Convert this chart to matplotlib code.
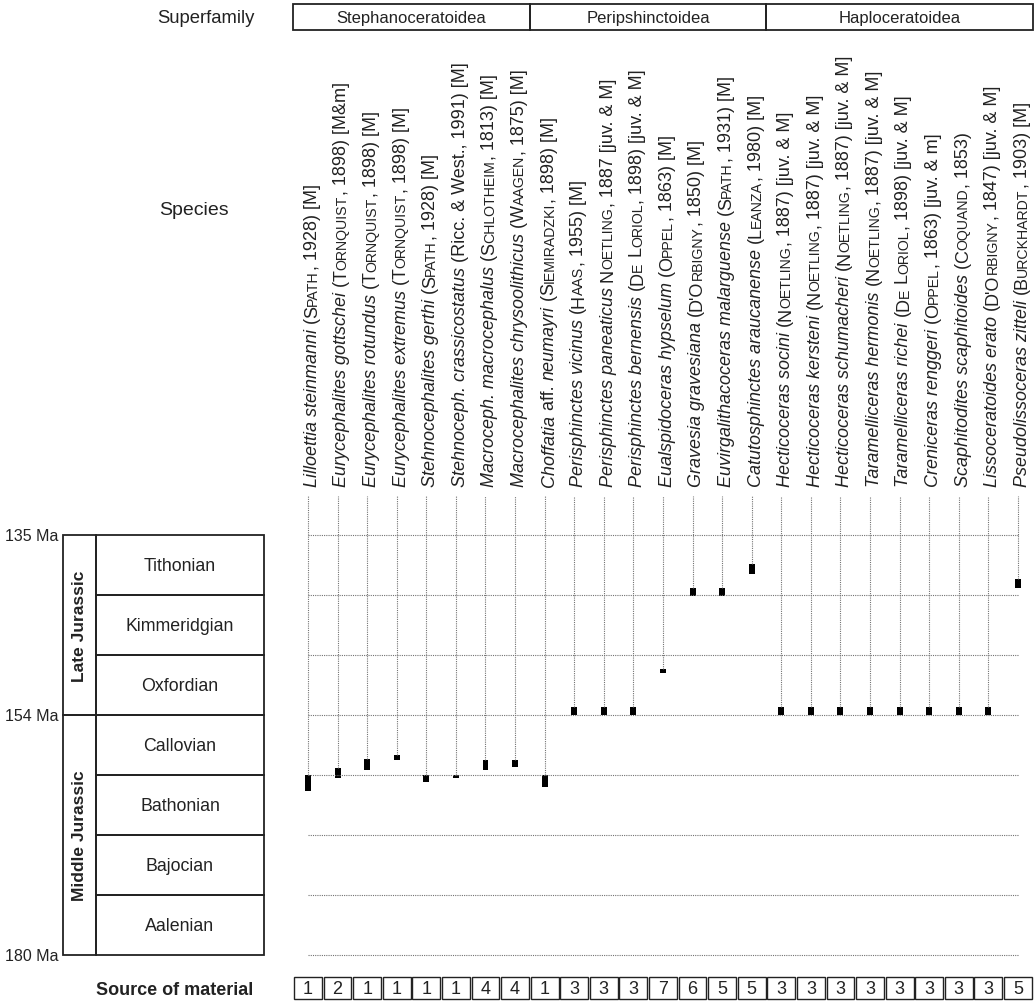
import matplotlib
matplotlib.use('Agg')
import matplotlib.pyplot as plt
from matplotlib.patches import Rectangle
from matplotlib.transforms import offset_copy
from matplotlib.font_manager import FontProperties

# stratigraphy (equal height per stage, bottom = 0)
stages = ['Aalenian', 'Bajocian', 'Bathonian', 'Callovian', 'Oxfordian', 'Kimmeridgian', 'Tithonian']
eras = ['Middle Jurassic', 'Late Jurassic']
era_spans = [(0, 4), (4, 7)]
age_labels = ['180 Ma', '154 Ma', '135 Ma']
age_levels = [0, 4, 7]

superfamilies = ['Stephanoceratoidea', 'Peripshinctoidea', 'Haploceratoidea']
superfamily_counts = [8, 8, 9]

# *...* = italic, ^...^ = small caps
species = [
    "*Lilloettia steinmanni* (^Spath^, 1928) [M]",
    "*Eurycephalites gottschei* (^Tornquist^, 1898) [M&m]",
    "*Eurycephalites rotundus* (^Tornquist^, 1898) [M]",
    "*Eurycephalites extremus* (^Tornquist^, 1898) [M]",
    "*Stehnocephalites gerthi* (^Spath^, 1928) [M]",
    "*Stehnoceph. crassicostatus* (Ricc. & West., 1991) [M]",
    "*Macroceph. macrocephalus* (^Schlotheim^, 1813) [M]",
    "*Macrocephalites chrysoolithicus* (^Waagen^, 1875) [M]",
    "*Choffatia* aff. *neumayri* (^Siemiradzki^, 1898) [M]",
    "*Perisphinctes vicinus* (^Haas^, 1955) [M]",
    "*Perisphinctes paneaticus* ^Noetling^, 1887 [juv. & M]",
    "*Perisphinctes bernensis* (^De Loriol^, 1898) [juv. & M]",
    "*Eualspidoceras hypselum* (^Oppel^, 1863) [M]",
    "*Gravesia gravesiana* (^D'Orbigny^, 1850) [M]",
    "*Euvirgalithacoceras malarguense* (^Spath^, 1931) [M]",
    "*Catutosphinctes araucanense* (^Leanza^, 1980) [M]",
    "*Hecticoceras socini* (^Noetling^, 1887) [juv. & M]",
    "*Hecticoceras kersteni* (^Noetling^, 1887) [juv. & M]",
    "*Hecticoceras schumacheri* (^Noetling^, 1887) [juv. & M]",
    "*Taramelliceras hermonis* (^Noetling^, 1887) [juv. & M]",
    "*Taramelliceras richei* (^De Loriol^, 1898) [juv. & M]",
    "*Creniceras renggeri* (^Oppel^, 1863) [juv. & m]",
    "*Scaphitodites scaphitoides* (^Coquand^, 1853)",
    "*Lissoceratoides erato* (^D'Orbigny^, 1847) [juv. & M]",
    "*Pseudolissoceras zitteli* (^Burckhardt^, 1903) [M]",
]

# stratigraphic range of each species, in stage units
range_bottom = [2.73, 2.95, 3.09, 3.245, 2.88, 2.945, 3.08, 3.14, 2.80,
                4.0, 4.0, 4.0, 4.705, 5.99, 5.99, 6.35,
                4.0, 4.0, 4.0, 4.0, 4.0, 4.0, 4.0, 4.0, 6.12]
range_top = [3.0, 3.12, 3.27, 3.33, 3.0, 3.0, 3.25, 3.25, 3.0,
             4.13, 4.13, 4.13, 4.76, 6.12, 6.12, 6.52,
             4.13, 4.13, 4.13, 4.13, 4.13, 4.13, 4.13, 4.13, 6.27]

source = [1, 2, 1, 1, 1, 1, 4, 4, 1, 3, 3, 3, 7, 6, 5, 5, 3, 3, 3, 3, 3, 3, 3, 3, 5]

regular = ['Liberation Sans', 'DejaVu Sans']
ink = '#222222'

fig = plt.figure(figsize=(10.35, 10.03), dpi=100)
ax = fig.add_axes([0, 0, 1, 1])
ax.set_xlim(-10.412, 24.577)
ax.set_ylim(-0.783, 15.933)
ax.axis('off')

n = len(species)
xs = list(range(n))

# grid
ax.hlines(range(len(stages) + 1), 0, n - 1, colors='0.45', linestyles=(0, (1, 1)), lw=0.8)
ax.vlines(xs, range_top, 7.65, colors='0.45', linestyles=(0, (1, 1)), lw=0.8)

# ranges
heights = [t - b for t, b in zip(range_top, range_bottom)]
ax.bar(xs, heights, bottom=range_bottom, width=0.2, color='black')

# stage / era columns
era_x0, stage_x0, stage_x1 = -8.283, -7.167, -1.487
for i, name in enumerate(stages):
    ax.add_patch(Rectangle((stage_x0, i), stage_x1 - stage_x0, 1, fill=False, lw=1.3, ec=ink))
    ax.text((stage_x0 + stage_x1) / 2, i + 0.5, name, ha='center', va='center',
            fontsize=12.8, family=regular, color=ink)
for name, (a, b) in zip(eras, era_spans):
    ax.add_patch(Rectangle((era_x0, a), stage_x0 - era_x0, b - a, fill=False, lw=1.3, ec=ink))
    ax.text((era_x0 + stage_x0) / 2, (a + b) / 2, name, rotation=90, ha='center', va='center',
            fontsize=12.5, fontweight='bold', family=regular, color=ink)
for lab, lev in zip(age_labels, age_levels):
    ax.text(-8.45, lev, lab, ha='right', va='center', fontsize=11.5, family=regular, color=ink)

# superfamily header
start = -0.5
for name, cnt in zip(superfamilies, superfamily_counts):
    ax.add_patch(Rectangle((start, 15.417), cnt, 0.433, fill=False, lw=1.3, ec=ink))
    ax.text(start + cnt / 2, 15.63, name, ha='center', va='center', fontsize=12, family=regular,
            color=ink)
    start += cnt
ax.text(-1.79, 15.63, 'Superfamily', ha='right', va='center', fontsize=13.3, family=regular, color=ink)
ax.text(-5.04, 12.43, 'Species', ha='left', va='center', fontsize=14, family=regular, color=ink)

# source of material row
ax.text(-1.86, -0.567, 'Source of material', ha='right', va='center', fontsize=13,
        fontweight='bold', family=regular, color=ink)
for x, s in zip(xs, source):
    ax.add_patch(Rectangle((x - 0.47, -0.733), 0.94, 0.366, fill=False, lw=1.0, ec=ink))
    ax.text(x, -0.55, str(s), ha='center', va='center', fontsize=13, family=regular, color=ink)


def split_label(label):
    # returns list of (text, kind) with kind in 'i', 'n', 'small'
    pieces = []
    italic = False
    caps = False
    buf = ''
    for ch in label:
        if ch in '*^':
            if buf:
                pieces.append((buf, 'i' if italic else ('caps' if caps else 'n')))
            buf = ''
            if ch == '*':
                italic = not italic
            else:
                caps = not caps
        else:
            buf += ch
    if buf:
        pieces.append((buf, 'i' if italic else ('caps' if caps else 'n')))
    out = []
    for txt, kind in pieces:
        if kind != 'caps':
            out.append((txt, kind))
            continue
        run, run_small = '', None
        for ch in txt:
            small = ch.islower()
            if run_small is not None and small != run_small:
                out.append((run, 'small' if run_small else 'n'))
                run = ''
            run += ch.upper()
            run_small = small
        if run:
            out.append((run, 'small' if run_small else 'n'))
    return out


renderer = fig.canvas.get_renderer()
fs = 13
props = {
    'n': FontProperties(family=regular, size=fs),
    'i': FontProperties(family=regular, size=fs, style='italic'),
    'small': FontProperties(family=regular, size=fs * 0.78),
}


def text_width(s, prop):
    w1, _, _ = renderer.get_text_width_height_descent(s + 'x', prop, ismath=False)
    w2, _, _ = renderer.get_text_width_height_descent('x', prop, ismath=False)
    return w1 - w2

label_y0 = 7.82
for x, label in zip(xs, species):
    off = 0.0
    for txt, kind in split_label(label):
        tr = offset_copy(ax.transData, fig=fig, x=0, y=off, units='points')
        ax.text(x + 0.3, label_y0, txt, transform=tr, rotation=90, rotation_mode='anchor',
                ha='left', va='baseline', fontproperties=props[kind], color=ink)
        off += text_width(txt, props[kind]) * 72 / fig.dpi

fig.savefig('out.png', dpi=100)
